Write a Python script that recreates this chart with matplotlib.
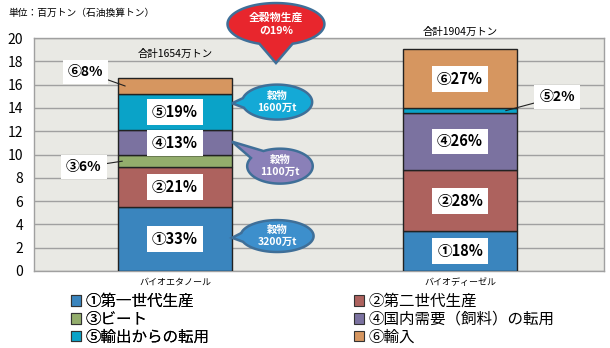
import numpy as np
import matplotlib
matplotlib.use('Agg')
import matplotlib.pyplot as plt
from matplotlib.patches import Patch, Polygon

plt.rcParams['font.family'] = ['Noto Sans CJK JP', 'DejaVu Sans']

# Data
categories = ['バイオエタノール', 'バイオディーゼル']
totals = [16.54, 19.04]                      # 百万トン（石油換算）
total_labels = ['合計1654万トン', '合計1904万トン']
circled = ['①', '②', '③', '④', '⑤', '⑥']
segment_names = ['第一世代生産', '第二世代生産', 'ビート',
                 '国内需要（飼料）の転用', '輸出からの転用', '輸入']
ethanol_pct = [33, 21, 6, 13, 19, 8]
diesel_pct = [18, 28, 0, 26, 2, 27]
grain_labels = ['穀物\n3200万t', '穀物\n1100万t', '穀物\n1600万t']
grain_segments = [0, 3, 4]                   # ethanol segments the bubbles point to
grain_share_label = '全穀物生産\nの19%'

colors = ['#3a85be', '#ad625e', '#93ad6c', '#7b72a0', '#0aa3c8', '#d69660']
bubble_colors = ['#3d8fcc', '#8a80b8', '#14a9d6']

fig = plt.figure(figsize=(6.1, 3.48), dpi=100)
ax = fig.add_axes([34 / 610, 1 - 271 / 348, 570 / 610, 233 / 348])
ax.set_facecolor('#e9e9e4')

x = np.arange(len(categories))
bar_w = 0.40
shares = [ethanol_pct, diesel_pct]

# stacked bars, heights scaled so each stack sums to its total
seg_bounds = []
for i, pct in enumerate(shares):
    pct = np.array(pct, dtype=float)
    heights = totals[i] * pct / pct.sum()
    bottoms = np.concatenate([[0], np.cumsum(heights)[:-1]])
    seg_bounds.append((bottoms, heights))
    for k in range(len(pct)):
        if heights[k] == 0:
            continue
        ax.bar(x[i], heights[k], bar_w, bottom=bottoms[k], color=colors[k],
               edgecolor='#222222', linewidth=1.0, zorder=3)

box = dict(facecolor='white', edgecolor='none', pad=3.5)
small_label_pos = {(0, 5): (-0.315, 17.1), (0, 2): (-0.32, 8.93), (1, 4): (1.34, 14.94)}
leader_end_x = {(0, 5): -0.175, (0, 2): -0.185, (1, 4): 1.16}
for i, pct in enumerate(shares):
    bottoms, heights = seg_bounds[i]
    for k, p in enumerate(pct):
        if p == 0:
            continue
        txt = f'{circled[k]}{p}%'
        mid = bottoms[k] + heights[k] / 2
        if (i, k) in small_label_pos:
            lx, ly = small_label_pos[(i, k)]
            ax.annotate(txt, xy=(leader_end_x[(i, k)], mid), xytext=(lx, ly),
                        ha='center', va='center', fontsize=10, fontweight='bold',
                        bbox=box, zorder=6, annotation_clip=False,
                        arrowprops=dict(arrowstyle='-', color='#222222', lw=0.8,
                                        shrinkA=0, shrinkB=0))
        else:
            ax.text(x[i], mid, txt, ha='center', va='center', fontsize=10.5,
                    fontweight='bold', bbox=box, zorder=5)

ax.text(x[0], 18.6, total_labels[0], ha='center', va='center', fontsize=7.5)
ax.text(x[1], 20.5, total_labels[1], ha='center', va='center', fontsize=7.5,
        clip_on=False)


def bubble(cx, cy, a, b, tip, color, text, fs, delta=0.28):
    # ellipse outline with a triangular tail towards tip
    tx, ty = tip
    th0 = np.arctan2((ty - cy) / b, (tx - cx) / a)
    t = np.linspace(th0 + delta, th0 + 2 * np.pi - delta, 120)
    pts = np.column_stack([cx + a * np.cos(t), cy + b * np.sin(t)])
    pts = np.vstack([pts, [tx, ty]])
    ax.add_patch(Polygon(pts, closed=True, facecolor=color, edgecolor='#3f6f98',
                         linewidth=1.8, zorder=7, clip_on=False))
    ax.text(cx, cy, text, ha='center', va='center', color='white',
            fontsize=fs, fontweight='bold', zorder=8, linespacing=1.3,
            clip_on=False)


bubble_geom = [(0.358, 3.0, 0.128, 1.37), (0.368, 9.0, 0.115, 1.5),
               (0.358, 14.5, 0.123, 1.5)]
bubble_tip_y = [2.85, 11.1, 14.4]
for j, k in enumerate(grain_segments):
    cx, cy, a, b = bubble_geom[j]
    bubble(cx, cy, a, b, (x[0] + bar_w / 2, bubble_tip_y[j]), bubble_colors[j],
           grain_labels[j], 7.5)

bubble(0.354, 21.2, 0.17, 1.8, (0.354, 17.85), '#e8262d', grain_share_label,
       7.8, delta=0.35)

ax.set_xlim(-0.495, 1.505)
ax.set_ylim(0, 20)
ax.set_yticks(np.arange(0, 21, 2))
ax.set_xticks(x)
ax.set_xticklabels(categories, fontsize=6.5)
ax.tick_params(axis='x', length=0, pad=5)
ax.tick_params(axis='y', length=0, labelsize=10, pad=8)
ax.grid(axis='y', color='#a0a0a0', linewidth=1.0, zorder=0)
ax.set_axisbelow(True)
for s in ax.spines.values():
    s.set_color('#a0a0a0')
    s.set_linewidth(1.0)

fig.text(8 / 610, 1 - 13 / 348, '単位：百万トン（石油換算トン）', fontsize=7,
         va='center', ha='left')

# legend in two columns
handles = [Patch(facecolor=colors[k], edgecolor='#333333', linewidth=0.8,
                 label=circled[k] + segment_names[k]) for k in range(6)]
leg_kw = dict(frameon=False, fontsize=11.2, handlelength=0.65, handleheight=0.65,
              handletextpad=0.3, labelspacing=0.05, borderaxespad=0,
              borderpad=0, loc='upper left')
leg1 = fig.legend(handles=[handles[0], handles[2], handles[4]],
                  bbox_to_anchor=(71 / 610, 1 - 293 / 348), **leg_kw)
fig.add_artist(leg1)
fig.legend(handles=[handles[1], handles[3], handles[5]],
           bbox_to_anchor=(354 / 610, 1 - 293 / 348), **leg_kw)

fig.savefig('out.png', dpi=100)
